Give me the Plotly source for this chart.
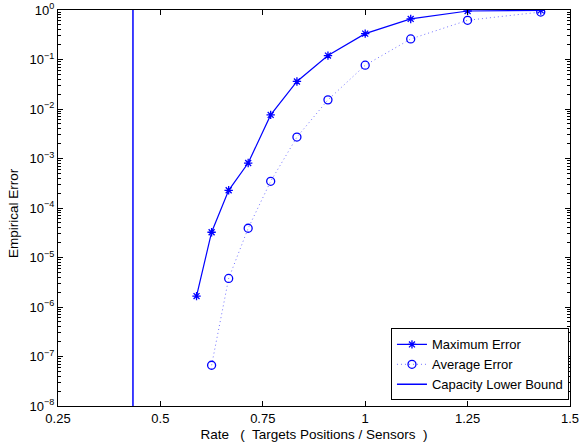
import plotly.graph_objects as go

rate = [10/17, 10/16, 10/15, 10/14, 10/13, 10/12, 10/11, 1.0, 10/9, 1.25, 10/7]
max_err = [1.66e-6, 3.24e-5, 2.28e-4, 8.1e-4, 7.6e-3, 3.6e-2, 0.12, 0.333, 0.66, 0.955, 0.98]
rate_avg = [10/16, 10/15, 10/14, 10/13, 10/12, 10/11, 1.0, 10/9, 1.25, 10/7]
avg_err = [6.65e-8, 3.77e-6, 3.9e-5, 3.46e-4, 2.71e-3, 1.53e-2, 7.67e-2, 0.26, 0.62, 0.91]
capacity_rate = 0.433
x_ticks = [0.25, 0.5, 0.75, 1, 1.25, 1.5]
x_tick_labels = ["0.25", "0.5", "0.75", "1", "1.25", "1.5"]
y_exponents = [-8, -7, -6, -5, -4, -3, -2, -1, 0]

y_ticks = [10.0 ** e for e in y_exponents]
y_tick_labels = ["10<sup>%s</sup>" % (str(e).replace("-", "\u2212")) for e in y_exponents]
y_minor = [m * 10.0 ** e for e in y_exponents[:-1] for m in range(2, 10)]

blue = "rgb(0,0,255)"
font_family = "Liberation Sans, Arial, sans-serif"
fig = go.Figure()
fig.add_trace(go.Scatter(
    x=rate, y=max_err, mode="lines+markers", name="Maximum Error",
    line=dict(color=blue, width=1.2),
    marker=dict(symbol="asterisk-open", size=7, color=blue, line=dict(color=blue, width=1.3)),
))
fig.add_trace(go.Scatter(
    x=rate_avg, y=avg_err, mode="lines+markers", name="Average Error",
    line=dict(color="rgba(0,0,255,0.55)", width=1, dash="1px,3px"),
    marker=dict(symbol="circle-open", size=8, color=blue, line=dict(color=blue, width=1.3)),
))
fig.add_trace(go.Scatter(
    x=[capacity_rate, capacity_rate], y=[1e-8, 1], mode="lines", name="Capacity Lower Bound",
    line=dict(color=blue, width=1.5),
))

axis_common = dict(
    showline=True, linecolor="black", linewidth=1, mirror="allticks",
    ticks="inside", ticklen=5, tickcolor="black", showgrid=False, zeroline=False,
    tickfont=dict(family=font_family, size=13, color="black"),
    automargin=False, ticklabeloverflow="allow",
)
fig.update_xaxes(
    range=[0.25, 1.5], tickmode="array", tickvals=x_ticks, ticktext=x_tick_labels,
    title=dict(text="Rate   (  Targets Positions / Sensors  )",
               font=dict(family=font_family, size=13.5, color="black"), standoff=4),
    **axis_common,
)
fig.update_yaxes(
    type="log", range=[-8, 0], tickmode="array", tickvals=y_ticks, ticktext=y_tick_labels,
    minor=dict(tickmode="array", tickvals=y_minor, ticks="inside", ticklen=3,
               tickcolor="black", showgrid=False),
    **axis_common,
)
fig.add_annotation(
    text="Empirical Error", xref="paper", yref="paper", x=0, y=0.5,
    xanchor="center", yanchor="middle", xshift=-45, yshift=-5, textangle=-90,
    showarrow=False, font=dict(family=font_family, size=13.5, color="black"),
)
fig.update_layout(
    width=579, height=448,
    margin=dict(l=58, r=9, t=10, b=42),
    plot_bgcolor="white", paper_bgcolor="white",
    font=dict(family=font_family, size=13, color="black"),
    legend=dict(x=0.998, y=0.014, xanchor="right", yanchor="bottom",
                bgcolor="white", bordercolor="black", borderwidth=1,
                font=dict(size=13), tracegroupgap=0, itemwidth=30),
    showlegend=True,
)
fig.write_html("out.html", config={"displayModeBar": False},
               post_script="document.body.style.margin='0';")
